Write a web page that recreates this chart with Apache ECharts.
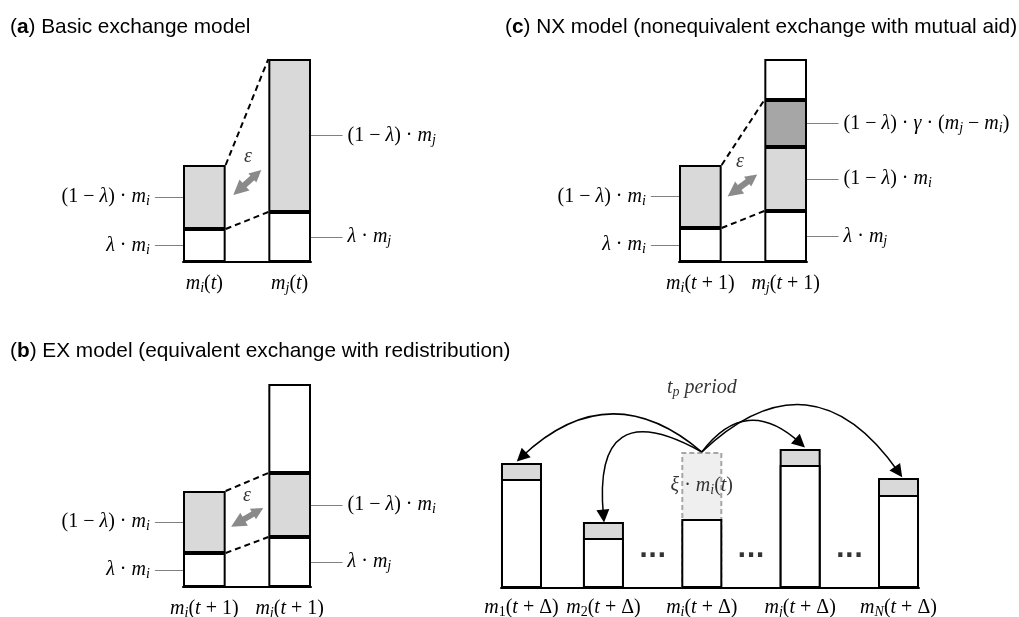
<!DOCTYPE html>
<html><head><meta charset="utf-8">
<script src="https://cdn.jsdelivr.net/npm/echarts@6/dist/echarts.min.js"></script>
<style>html,body{margin:0;padding:0;background:#fff}#c{width:1019px;height:617px}</style>
</head><body><div id="c"></div>
<script>
// ================= DATA =================
// (a) Basic exchange model — stacked segments, bottom → top
const catsA = ['m_i(t)', '', 'm_j(t)'];
const aLambda = [33, '-', 50];        // λ·m
const aRest   = [64, '-', 153];       // (1−λ)·m
const aLeftNames  = ['λ · m_i', '(1 − λ) · m_i'];
const aRightNames = ['λ · m_j', '(1 − λ) · m_j'];

// (c) NX model
const catsC = ['m_i(t + 1)', '', 'm_j(t + 1)'];
const cLambda = [34, '-', 51];
const cRest   = [63, '-', 64];
const cAid    = ['-', '-', 47];
const cTop    = ['-', '-', 41];
const cLeftNames  = ['λ · m_i', '(1 − λ) · m_i'];
const cRightNames = ['λ · m_j', '(1 − λ) · m_i', '(1 − λ) · γ · (m_j − m_i)', null];

// (b) EX model — exchange pair
const catsB = ['m_i(t + 1)', '', 'm_j(t + 1)'];
const bLambda = [34, '-', 50];
const bRest   = [62, '-', 64];
const bTop    = ['-', '-', 89];
const bLeftNames  = ['λ · m_i', '(1 − λ) · m_i'];
const bRightNames = ['λ · m_j', '(1 − λ) · m_i', null];

// (b) EX model — redistribution
const rNames = ['m_1(t + Δ)', 'm_2(t + Δ)', 'm_i(t + Δ)', 'm_j(t + Δ)', 'm_N(t + Δ)'];
const rPos   = [0.5, 2.5, 4.9, 7.3, 9.7];
const rBase  = [109, 50, 69, 123, 93];
const rShare = [16, 16, 67, 16, 17];
const rFrom  = 2;
const rTo    = [0, 1, 3, 4];

// annotation anchors (axis units): ε arrow ends and ε text
const epsArrowA = [[1.31, 72], [1.73, 88]];
const epsArrowC = [[1.28, 70], [1.72, 84]];
const epsArrowB = [[1.28, 64], [1.76, 76]];
const epsTextA = [1.52, 105];
const epsTextC = [1.43, 100];
const epsTextB = [1.5, 91];

// ================= HELPERS =================
const MF = "'Liberation Serif', 'DejaVu Serif', serif";
const SF = "'Liberation Sans', Arial, sans-serif";
const richMath = {
  n: {fontFamily: MF, fontSize: 20, lineHeight: 23, color: '#000'},
  i: {fontFamily: MF, fontSize: 20, lineHeight: 23, fontStyle: 'italic', color: '#000'},
  s: {fontFamily: MF, fontSize: 14, lineHeight: 10, fontStyle: 'italic', verticalAlign: 'bottom', color: '#000'},
  d: {fontFamily: MF, fontSize: 14, lineHeight: 10, verticalAlign: 'bottom', color: '#000'}
};
function math(s) {
  if (!s) return '';
  let out = '', cur = null, buf = '';
  const flush = () => { if (buf) out += '{' + cur + '|' + buf + '}'; buf = ''; };
  for (let k = 0; k < s.length; k++) {
    let ch = s[k], st;
    if (ch === '_') { ch = s[++k]; st = /[0-9]/.test(ch) ? 'd' : 's'; }
    else st = /[A-Za-zα-ω]/.test(ch) ? 'i' : 'n';
    if (st !== cur) { flush(); cur = st; }
    buf += ch;
  }
  flush();
  return out;
}
const num = v => (v === '-' || v == null) ? null : v;
function levels(segs, b) {
  let acc = 0;
  return segs.map(s => { const v = num(s[b]); if (v == null) return null; const r = [acc, acc + v]; acc += v; return r; });
}
function topOf(segs, b) { let t = 0; segs.forEach(s => { const v = num(s[b]); if (v != null) t += v; }); return t; }

const series = [];
const LIGHT = '#d9d9d9', DARK = '#a6a6a6';

function pairPanel(g, segs, colors, leftNames, rightNames, joinLevel, epsArrow, epsText) {
  const xc = 2 * g, xv = 2 * g + 1, y = g;
  segs.forEach((d, k) => series.push({
    type: 'bar', xAxisIndex: xc, yAxisIndex: y, stack: 'p' + g, barWidth: '100%',
    data: d, silent: true, z: 3,
    itemStyle: {color: colors[k], borderColor: '#000', borderWidth: 2}
  }));
  const L = levels(segs, 0), R = levels(segs, 2);
  series.push({
    type: 'lines', coordinateSystem: 'cartesian2d', xAxisIndex: xv, yAxisIndex: y, clip: false, z: 4,
    symbol: 'none', silent: true,
    lineStyle: {color: '#000', width: 2, type: [6, 4], opacity: 1},
    data: [
      {coords: [[1, topOf(segs, 0)], [2, R[joinLevel][1]]]},
      {coords: [[1, L[0][1]], [2, R[0][1]]]}
    ]
  });
  const lineStyle = {color: '#808080', width: 1, opacity: 1};
  series.push({
    type: 'lines', coordinateSystem: 'cartesian2d', xAxisIndex: xv, yAxisIndex: y, clip: false,
    symbol: 'none', silent: true, lineStyle,
    label: {show: true, position: 'start', distance: 5, color: '#000', formatter: p => math(p.name), rich: richMath},
    data: leftNames.map((nm, k) => nm && L[k] ? {name: nm, coords: [[-0.66, (L[k][0] + L[k][1]) / 2], [0, (L[k][0] + L[k][1]) / 2]]} : null).filter(Boolean)
  });
  series.push({
    type: 'lines', coordinateSystem: 'cartesian2d', xAxisIndex: xv, yAxisIndex: y, clip: false,
    symbol: 'none', silent: true, lineStyle,
    label: {show: true, position: 'end', distance: 5, color: '#000', formatter: p => math(p.name), rich: richMath},
    data: rightNames.map((nm, k) => nm && R[k] ? {name: nm, coords: [[3, (R[k][0] + R[k][1]) / 2], [3.74, (R[k][0] + R[k][1]) / 2]]} : null).filter(Boolean)
  });
  series.push({
    type: 'lines', coordinateSystem: 'cartesian2d', xAxisIndex: xv, yAxisIndex: y, clip: false,
    symbol: ['triangle', 'triangle'], symbolSize: [15, 12], silent: true,
    lineStyle: {color: '#8a8a8a', width: 6, opacity: 1},
    data: [{coords: epsArrow}]
  });
  series.push({
    type: 'scatter', xAxisIndex: xv, yAxisIndex: y, symbolSize: 1, silent: true,
    itemStyle: {color: 'rgba(0,0,0,0)'},
    label: {show: true, position: 'inside', formatter: () => math('ε'), rich: richMath},
    data: [epsText]
  });
}

pairPanel(0, [aLambda, aRest], ['#fff', LIGHT], aLeftNames, aRightNames, 1, epsArrowA, epsTextA);
pairPanel(1, [cLambda, cRest, cAid, cTop], ['#fff', LIGHT, DARK, '#fff'], cLeftNames, cRightNames, 2, epsArrowC, epsTextC);
pairPanel(2, [bLambda, bRest, bTop], ['#fff', LIGHT, '#fff'], bLeftNames, bRightNames, 1, epsArrowB, epsTextB);

// redistribution panel (grid 3): full bar (base + share) behind, base in front
series.push({
  type: 'bar', xAxisIndex: 6, yAxisIndex: 3, barWidth: 41, barGap: '-100%', z: 3, silent: true,
  data: rPos.map((x, k) => k === rFrom
    ? {value: [x, rBase[k] + rShare[k]], itemStyle: {color: '#efefef', borderColor: '#a6a6a6', borderType: [5, 3], borderWidth: 2}}
    : [x, rBase[k] + rShare[k]]),
  itemStyle: {color: LIGHT, borderColor: '#000', borderWidth: 2}
});
series.push({
  type: 'bar', xAxisIndex: 6, yAxisIndex: 3, barWidth: 41, barGap: '-100%', z: 4, silent: true,
  data: rPos.map((x, k) => [x, rBase[k]]),
  itemStyle: {color: '#fff', borderColor: '#000', borderWidth: 2},
  label: {show: true, position: 'bottom', distance: 8, formatter: p => math(rNames[p.dataIndex]), rich: richMath}
});
series.push({
  type: 'scatter', xAxisIndex: 6, yAxisIndex: 3, symbolSize: 1, silent: true, z: 6,
  itemStyle: {color: 'rgba(0,0,0,0)'},
  label: {show: true, position: 'inside', formatter: () => math('ξ · m_i(t)'), rich: richMath},
  data: [[rPos[rFrom], rBase[rFrom] + rShare[rFrom] / 2]]
});
const bend = {0: -0.45, 1: -0.95, 3: 0.55, 4: 0.58};
const tip = 6;
series.push({
  type: 'lines', coordinateSystem: 'cartesian2d', xAxisIndex: 6, yAxisIndex: 3, clip: false, z: 5, silent: true,
  symbol: ['none', 'triangle'], symbolSize: [11, 13],
  lineStyle: {color: '#000', width: 1.5, opacity: 1},
  data: rTo.map(k => ({
    coords: [[rPos[rFrom], rBase[rFrom] + rShare[rFrom]], [rPos[k], rBase[k] + rShare[k] + tip]],
    lineStyle: {curveness: bend[k]}
  }))
});
const gapDots = [1, 2, 3].map(k => [(rPos[k] + rPos[k + 1]) / 2, 37]);
series.push({
  type: 'scatter', xAxisIndex: 6, yAxisIndex: 3, symbolSize: 1, silent: true,
  itemStyle: {color: 'rgba(0,0,0,0)'},
  label: {show: true, position: 'inside', formatter: '...', fontFamily: 'DejaVu Sans', fontWeight: 'bold', fontSize: 24, color: '#000'},
  data: gapDots
});
series.push({
  type: 'scatter', xAxisIndex: 6, yAxisIndex: 3, symbolSize: 1, silent: true,
  itemStyle: {color: 'rgba(0,0,0,0)'},
  label: {show: true, position: 'inside', formatter: () => math('t_p period'), rich: richMath},
  data: [[rPos[rFrom], 200]]
});

// ================= AXES =================
const grids = [
  {left: 183, top: 52, width: 128, height: 210},
  {left: 679, top: 52, width: 128, height: 210},
  {left: 183, top: 377, width: 128, height: 210},
  {left: 501, top: 378, width: 418, height: 210}
].map(g => Object.assign({outerBoundsMode: 'none', containLabel: false}, g));

function catAxis(g, data) {
  return {
    type: 'category', gridIndex: g, data, boundaryGap: true,
    axisTick: {show: false},
    axisLine: {show: true, lineStyle: {color: '#000', width: 2}},
    axisLabel: {interval: 0, margin: 10, formatter: v => math(v), rich: richMath},
    splitLine: {show: false}
  };
}
const hiddenX = g => ({type: 'value', gridIndex: g, min: 0, max: 3, show: false});
const xAxis = [
  catAxis(0, catsA), hiddenX(0),
  catAxis(1, catsC), hiddenX(1),
  catAxis(2, catsB), hiddenX(2),
  {type: 'value', gridIndex: 3, min: 0, max: 10.2, axisLine: {show: true, onZero: false, lineStyle: {color: '#000', width: 2}},
   axisTick: {show: false}, axisLabel: {show: false}, splitLine: {show: false}}
];
const yAxis = [0, 1, 2, 3].map(g => ({type: 'value', gridIndex: g, min: 0, max: 210, show: false}));

const titleStyle = {fontFamily: SF, fontSize: 20.8, fontWeight: 'normal', color: '#000',
  rich: {b: {fontFamily: SF, fontSize: 20.8, fontWeight: 'bold', color: '#000'}}};
const title = [
  {text: '({b|a}) Basic exchange model', left: 10, top: 17, padding: 0, textStyle: titleStyle},
  {text: '({b|c}) NX model (nonequivalent exchange with mutual aid)', left: 505, top: 17, padding: 0, textStyle: titleStyle},
  {text: '({b|b}) EX model (equivalent exchange with redistribution)', left: 10, top: 341, padding: 0, textStyle: titleStyle}
];

const chart = echarts.init(document.getElementById('c'));
chart.setOption({animation: false, backgroundColor: '#fff', title, grid: grids, xAxis, yAxis, series});
</script>
</body></html>
